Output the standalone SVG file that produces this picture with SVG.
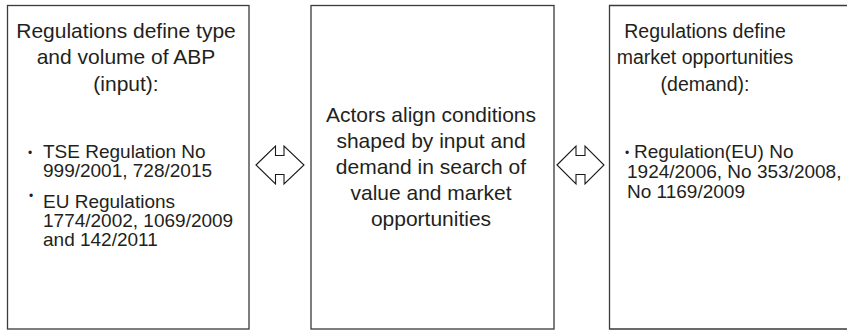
<svg xmlns="http://www.w3.org/2000/svg" width="847" height="330" viewBox="0 0 847 330">
  <style>
    .box { fill: #ffffff; stroke: #3a3a3a; stroke-width: 1.3; }
    .t { font-family: "Liberation Sans", Arial, sans-serif; fill: #231f20; }
    .title { font-size: 21px; text-anchor: middle; }
    .title-r { font-size: 19.5px; text-anchor: middle; }
    .item { font-size: 19px; }
    .dot { font-size: 12px; }
    .arrow { fill: #ffffff; stroke: #1a1a1a; stroke-width: 1.1; stroke-linejoin: miter; }
  </style>
  <rect x="0" y="0" width="847" height="330" fill="#ffffff"/>

  <g id="node-input">
    <rect class="box" x="7.5" y="5.5" width="241.5" height="323.5"/>
    <text class="t title" x="126" y="37.5">Regulations define type</text>
    <text class="t title" x="126" y="64">and volume of ABP</text>
    <text class="t title" x="126" y="91">(input):</text>
    <text class="t dot" x="28" y="157">•</text>
    <text class="t item" x="43" y="158">TSE Regulation No</text>
    <text class="t item" x="43" y="177">999/2001, 728/2015</text>
    <text class="t dot" x="29" y="200">•</text>
    <text class="t item" x="43" y="208">EU Regulations</text>
    <text class="t item" x="43" y="227">1774/2002, 1069/2009</text>
    <text class="t item" x="43" y="246">and 142/2011</text>
  </g>

  <g id="node-actors">
    <rect class="box" x="311" y="5.5" width="243" height="323.5"/>
    <text class="t title" x="431" y="122">Actors align conditions</text>
    <text class="t title" x="431" y="148">shaped by input and</text>
    <text class="t title" x="431" y="174">demand in search of</text>
    <text class="t title" x="431" y="200">value and market</text>
    <text class="t title" x="431" y="226">opportunities</text>
  </g>

  <g id="node-demand">
    <path class="box" d="M847 5.5 H609.5 V329 H847"/>
    <text class="t title-r" x="705" y="37.5">Regulations define</text>
    <text class="t title-r" x="705" y="64">market opportunities</text>
    <text class="t title-r" x="705" y="91">(demand):</text>
    <text class="t dot" x="625" y="157">•</text>
    <text class="t item" x="634" y="158">Regulation(EU) No</text>
    <text class="t item" x="627" y="178">1924/2006, No 353/2008,</text>
    <text class="t item" x="627" y="198">No 1169/2009</text>
  </g>

  <g id="connectors">
    <path id="arrow-input-actors" class="arrow" d="M256,165 L275.5,146 V155.5 H284 V146 L304,165 L284,184 V174.5 H275.5 V184 Z"/>
    <path id="arrow-actors-demand" class="arrow" d="M557,165 L576,146 V155.5 H585 V146 L604,165 L585,184 V174.5 H576 V184 Z"/>
  </g>
</svg>
